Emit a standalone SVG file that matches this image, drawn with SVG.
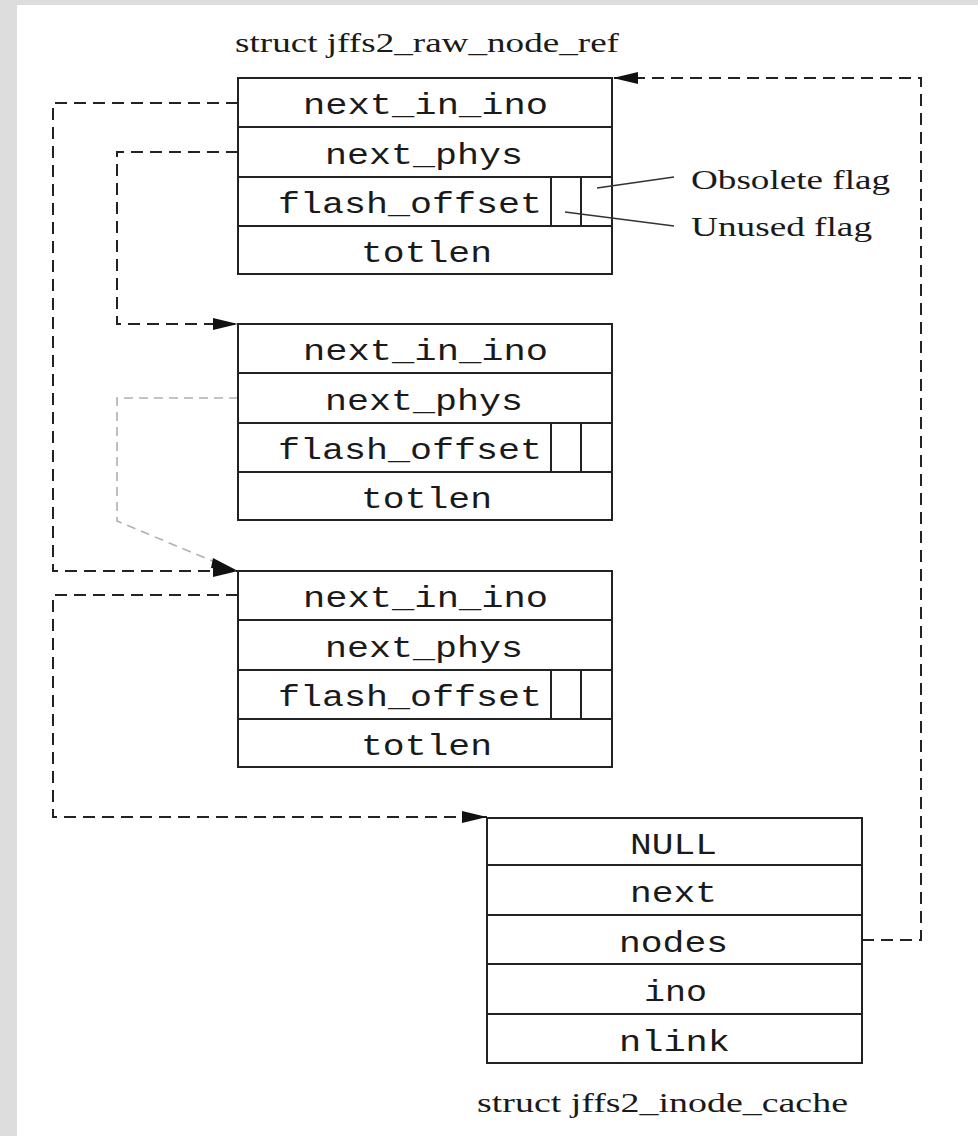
<svg xmlns="http://www.w3.org/2000/svg" width="978" height="1136" viewBox="0 0 978 1136">
  <defs>
    <style>
      .box { fill: #ffffff; stroke: #222; stroke-width: 2; }
      .sep { stroke: #222; stroke-width: 2; fill: none; }
      .mono { font-family: "Liberation Mono", "Courier New", monospace; font-size: 30px; fill: #1a1a1a; }
      .serif { font-family: "Liberation Serif", "Times New Roman", serif; font-size: 28px; fill: #1a1a1a; }
      .dash { fill: none; stroke: #222; stroke-width: 2; stroke-dasharray: 12 7; }
      .dashg { fill: none; stroke: #b0b0b0; stroke-width: 1.6; stroke-dasharray: 9 6; }
      .lead { stroke: #333; stroke-width: 1.4; fill: none; }
    </style>
    <marker id="arr" markerUnits="userSpaceOnUse" markerWidth="26" markerHeight="12" refX="25" refY="6" orient="auto">
      <path d="M0,0 L25,6 L0,12 Z" fill="#111"/>
    </marker>
  </defs>

  <rect x="0" y="0" width="978" height="1136" fill="#ffffff"/>
  <rect x="0" y="0" width="978" height="5" fill="#dddddd"/>
  <rect x="0" y="0" width="17" height="1136" fill="#dddddd"/>

  <text class="serif" x="235" y="52" textLength="384" lengthAdjust="spacingAndGlyphs">struct jffs2_raw_node_ref</text>

  <g id="connectors">
    <polyline class="dash" points="238,103 53,103 53,571 238,571" marker-end="url(#arr)"/>
    <polyline class="dash" points="238,152 117,152 117,324 238,324" marker-end="url(#arr)"/>
    <polyline class="dashg" points="238,398 117,398 117,521 217,563"/>
    <path d="M213,558 L238,571 L211,568 Z" fill="#111"/>
    <polyline class="dash" points="238,595 53,595 53,817 487,817" marker-end="url(#arr)"/>
    <polyline class="dash" points="862,940 921,940 921,78 613,78" marker-end="url(#arr)"/>
  </g>

  <g id="node1">
    <rect class="box" x="238" y="78" width="374" height="196"/>
    <line class="sep" x1="238" y1="127" x2="612" y2="127"/>
    <line class="sep" x1="238" y1="177" x2="612" y2="177"/>
    <line class="sep" x1="238" y1="226" x2="612" y2="226"/>
    <line class="sep" x1="551" y1="177" x2="551" y2="226"/>
    <line class="sep" x1="581" y1="177" x2="581" y2="226"/>
    <text class="mono" x="303" y="114" textLength="245" lengthAdjust="spacingAndGlyphs">next_in_ino</text>
    <text class="mono" x="325" y="164" textLength="198" lengthAdjust="spacingAndGlyphs">next_phys</text>
    <text class="mono" x="278" y="213" textLength="264" lengthAdjust="spacingAndGlyphs">flash_offset</text>
    <text class="mono" x="361" y="262" textLength="131" lengthAdjust="spacingAndGlyphs">totlen</text>
  </g>

  <g id="node2" transform="translate(0,246)">
    <rect class="box" x="238" y="78" width="374" height="196"/>
    <line class="sep" x1="238" y1="127" x2="612" y2="127"/>
    <line class="sep" x1="238" y1="177" x2="612" y2="177"/>
    <line class="sep" x1="238" y1="226" x2="612" y2="226"/>
    <line class="sep" x1="551" y1="177" x2="551" y2="226"/>
    <line class="sep" x1="581" y1="177" x2="581" y2="226"/>
    <text class="mono" x="303" y="114" textLength="245" lengthAdjust="spacingAndGlyphs">next_in_ino</text>
    <text class="mono" x="325" y="164" textLength="198" lengthAdjust="spacingAndGlyphs">next_phys</text>
    <text class="mono" x="278" y="213" textLength="264" lengthAdjust="spacingAndGlyphs">flash_offset</text>
    <text class="mono" x="361" y="262" textLength="131" lengthAdjust="spacingAndGlyphs">totlen</text>
  </g>

  <g id="node3" transform="translate(0,493)">
    <rect class="box" x="238" y="78" width="374" height="196"/>
    <line class="sep" x1="238" y1="127" x2="612" y2="127"/>
    <line class="sep" x1="238" y1="177" x2="612" y2="177"/>
    <line class="sep" x1="238" y1="226" x2="612" y2="226"/>
    <line class="sep" x1="551" y1="177" x2="551" y2="226"/>
    <line class="sep" x1="581" y1="177" x2="581" y2="226"/>
    <text class="mono" x="303" y="114" textLength="245" lengthAdjust="spacingAndGlyphs">next_in_ino</text>
    <text class="mono" x="325" y="164" textLength="198" lengthAdjust="spacingAndGlyphs">next_phys</text>
    <text class="mono" x="278" y="213" textLength="264" lengthAdjust="spacingAndGlyphs">flash_offset</text>
    <text class="mono" x="361" y="262" textLength="131" lengthAdjust="spacingAndGlyphs">totlen</text>
  </g>

  <g id="flags">
    <line class="lead" x1="597" y1="188" x2="674" y2="177"/>
    <line class="lead" x1="565" y1="212" x2="674" y2="226"/>
    <text class="serif" x="691" y="189" font-size="29" textLength="199" lengthAdjust="spacingAndGlyphs">Obsolete flag</text>
    <text class="serif" x="691" y="236" font-size="29" textLength="181" lengthAdjust="spacingAndGlyphs">Unused flag</text>
  </g>

  <g id="inode_cache">
    <rect class="box" x="487" y="818" width="375" height="245"/>
    <line class="sep" x1="487" y1="865" x2="862" y2="865"/>
    <line class="sep" x1="487" y1="915" x2="862" y2="915"/>
    <line class="sep" x1="487" y1="964" x2="862" y2="964"/>
    <line class="sep" x1="487" y1="1014" x2="862" y2="1014"/>
    <text class="mono" x="630" y="854" textLength="87" lengthAdjust="spacingAndGlyphs">NULL</text>
    <text class="mono" x="630" y="902" textLength="87" lengthAdjust="spacingAndGlyphs">next</text>
    <text class="mono" x="619" y="952" textLength="109" lengthAdjust="spacingAndGlyphs">nodes</text>
    <text class="mono" x="644" y="1001" textLength="63" lengthAdjust="spacingAndGlyphs">ino</text>
    <text class="mono" x="619" y="1051" textLength="111" lengthAdjust="spacingAndGlyphs">nlink</text>
    <text class="serif" x="477" y="1112" textLength="371" lengthAdjust="spacingAndGlyphs">struct jffs2_inode_cache</text>
  </g>
</svg>
